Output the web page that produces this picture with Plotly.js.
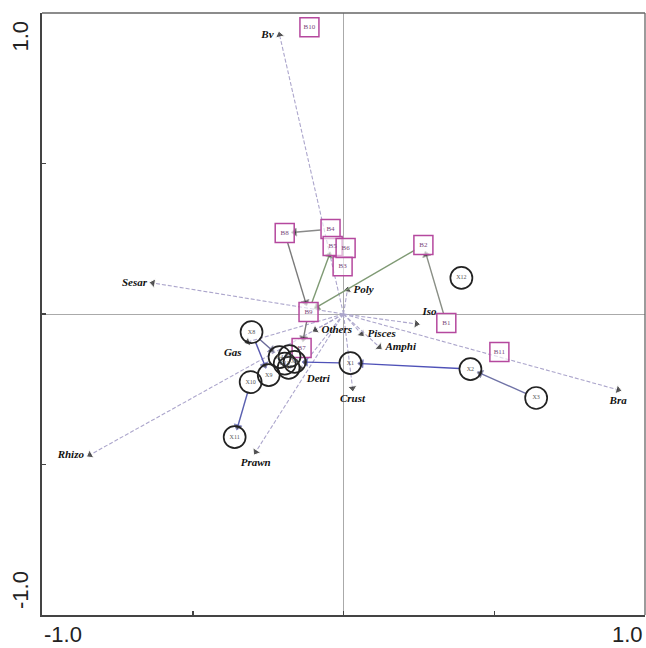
<!DOCTYPE html>
<html>
<head>
<meta charset="utf-8">
<script src="https://cdn.plot.ly/plotly-3.0.1.min.js"></script>
<style>html,body{margin:0;padding:0;background:#fff;}#chart{width:646px;height:648px;}</style>
</head>
<body>
<div id="chart"></div>
<script>
// ---- Data ----
const speciesNames = ['Bv','Sesar','Rhizo','Prawn','Gas','Detri','Crust','Others','Poly','Pisces','Amphi','Iso','Bra'];
const speciesX = [-0.212,-0.632,-0.841,-0.291,-0.318,-0.142,0.030,-0.093,0.013,0.060,0.119,0.242,0.911];
const speciesY = [0.927,0.103,-0.468,-0.458,-0.093,-0.179,-0.246,-0.053,0.080,-0.066,-0.110,-0.033,-0.252];

const boxNames = ['B1','B2','B3','B4','B5','B6','B7','B8','B9','B10','B11'];
const boxX = [0.341,0.265,-0.003,-0.043,-0.036,0.007,-0.139,-0.195,-0.116,-0.113,0.517];
const boxY = [-0.030,0.229,0.159,0.282,0.226,0.219,-0.113,0.269,0.007,0.953,-0.126];

const circleNames = ['X1','X2','X3','X4','X5','X6','X7','X13','X8','X9','X10','X11','X12'];
const circleX = [0.023,0.421,0.639,-0.212,-0.179,-0.162,-0.182,-0.195,-0.305,-0.248,-0.308,-0.361,0.391];
const circleY = [-0.163,-0.183,-0.279,-0.143,-0.140,-0.159,-0.179,-0.165,-0.060,-0.203,-0.226,-0.409,0.120];

const trajFrom = ['B1','B2','B9','B4','B8','B9','X3','X2','X1','X8','X8','X10'];
const trajTo   = ['B2','B9','B5','B8','B9','B7','X2','X1','X6','X4','X9','X11'];

// ---- Styles ----
const speciesTextPos = ['middle left','middle left','middle left','bottom center','bottom left','bottom right',
  'bottom center','middle right','middle right','middle right','middle right','top right','bottom center'];
const trajColors = ['#8a8f86','#7f9a74','#7f9a74','#8a8a8a','#7a7a7a','#7a7a7a','#6f72a6','#4f52b8','#4f52b8','#6a6a9a','#5a5ab0','#5a60b0'];
const speciesLineColor = '#aca6cc';

const pos = {};
boxNames.forEach((n,i)=>pos[n]={x:boxX[i],y:boxY[i],r:0.033});
circleNames.forEach((n,i)=>pos[n]={x:circleX[i],y:circleY[i],r:0.036});

const traces = [];
// species arrows
speciesNames.forEach((n,i)=>{
  traces.push({x:[0,speciesX[i]],y:[0,speciesY[i]],mode:'lines',
    line:{color:speciesLineColor,width:1.1,dash:'4px,2px'},hoverinfo:'skip',showlegend:false});
  traces.push({x:[0,speciesX[i]],y:[0,speciesY[i]],mode:'markers+text',
    text:['',n],textposition:speciesTextPos[i],
    textfont:{family:'Liberation Serif, Times New Roman, serif',size:11,color:'#111',style:'italic',weight:'bold'},
    marker:{symbol:'triangle-up',size:[0,8],color:'#111',angleref:'previous'},
    hoverinfo:'skip',showlegend:false});
});
// trajectories
trajFrom.forEach((f,i)=>{
  const a=pos[f], b=pos[trajTo[i]];
  const dx=b.x-a.x, dy=b.y-a.y, L=Math.hypot(dx,dy);
  const ux=dx/L, uy=dy/L;
  const x0=a.x+ux*a.r, y0=a.y+uy*a.r, x1=b.x-ux*b.r, y1=b.y-uy*b.r;
  traces.push({x:[x0,x1],y:[y0,y1],mode:'lines+markers',
    line:{color:trajColors[i],width:1.4},
    marker:{symbol:'triangle-up',size:[0,7],color:'#111',angleref:'previous'},
    hoverinfo:'skip',showlegend:false});
});
// boxes
traces.push({x:boxX,y:boxY,mode:'markers+text',text:boxNames,textposition:'middle center',
  textfont:{family:'Liberation Serif, serif',size:7,color:'#7a4a7a'},
  marker:{symbol:'square',size:19,color:'rgba(255,255,255,0.6)',line:{color:'#b5489e',width:1.5}},
  hoverinfo:'skip',showlegend:false});
// circles
traces.push({x:circleX,y:circleY,mode:'markers+text',text:circleNames,textposition:'middle center',
  textfont:{family:'Liberation Serif, serif',size:6,color:'#555'},
  marker:{symbol:'circle-open',size:22,color:'#222',line:{color:'#222',width:1.7}},
  hoverinfo:'skip',showlegend:false});

const tickFont = {family:'Liberation Sans, Arial, sans-serif',size:22,color:'#222'};
const layout = {
  width:646,height:648,
  margin:{l:42,r:1,t:13,b:33},
  paper_bgcolor:'#fff',plot_bgcolor:'#fff',
  xaxis:{range:[-1,1],showgrid:false,zeroline:true,zerolinecolor:'#aaa',zerolinewidth:1,
    showline:true,mirror:false,linecolor:'#444',linewidth:2,
    tickvals:[-1,-0.5,0,0.5,1],ticks:'inside',ticklen:4,tickwidth:1.5,tickcolor:'#444',showticklabels:false},
  yaxis:{range:[-1,1],showgrid:false,zeroline:true,zerolinecolor:'#aaa',zerolinewidth:1,
    showline:true,mirror:false,linecolor:'#444',linewidth:2,
    tickvals:[-1,-0.5,0,0.5,1],ticks:'inside',ticklen:4,tickwidth:1.5,tickcolor:'#444',showticklabels:false},
  shapes:[
    {type:'line',xref:'paper',yref:'paper',x0:0,x1:1,y0:1,y1:1,line:{color:'#666',width:1.3}},
    {type:'line',xref:'paper',yref:'paper',x0:1,x1:1,y0:0,y1:1,line:{color:'#666',width:1.3}}
  ],
  annotations:[
    {xref:'paper',yref:'paper',x:0,y:0,yshift:-5,xanchor:'left',yanchor:'top',text:'-1.0',showarrow:false,font:tickFont},
    {xref:'paper',yref:'paper',x:1,y:0,yshift:-5,xanchor:'right',yanchor:'top',text:'1.0',showarrow:false,font:tickFont},
    {xref:'paper',yref:'paper',x:0,y:1,xshift:-22,yshift:-6,xanchor:'center',yanchor:'top',textangle:-90,text:'1.0',showarrow:false,font:tickFont},
    {xref:'paper',yref:'paper',x:0,y:0,xshift:-22,yshift:4,xanchor:'center',yanchor:'bottom',textangle:-90,text:'-1.0',showarrow:false,font:tickFont}
  ]
};
Plotly.newPlot('chart',traces,layout,{staticPlot:true,displayModeBar:false});
</script>
</body>
</html>
